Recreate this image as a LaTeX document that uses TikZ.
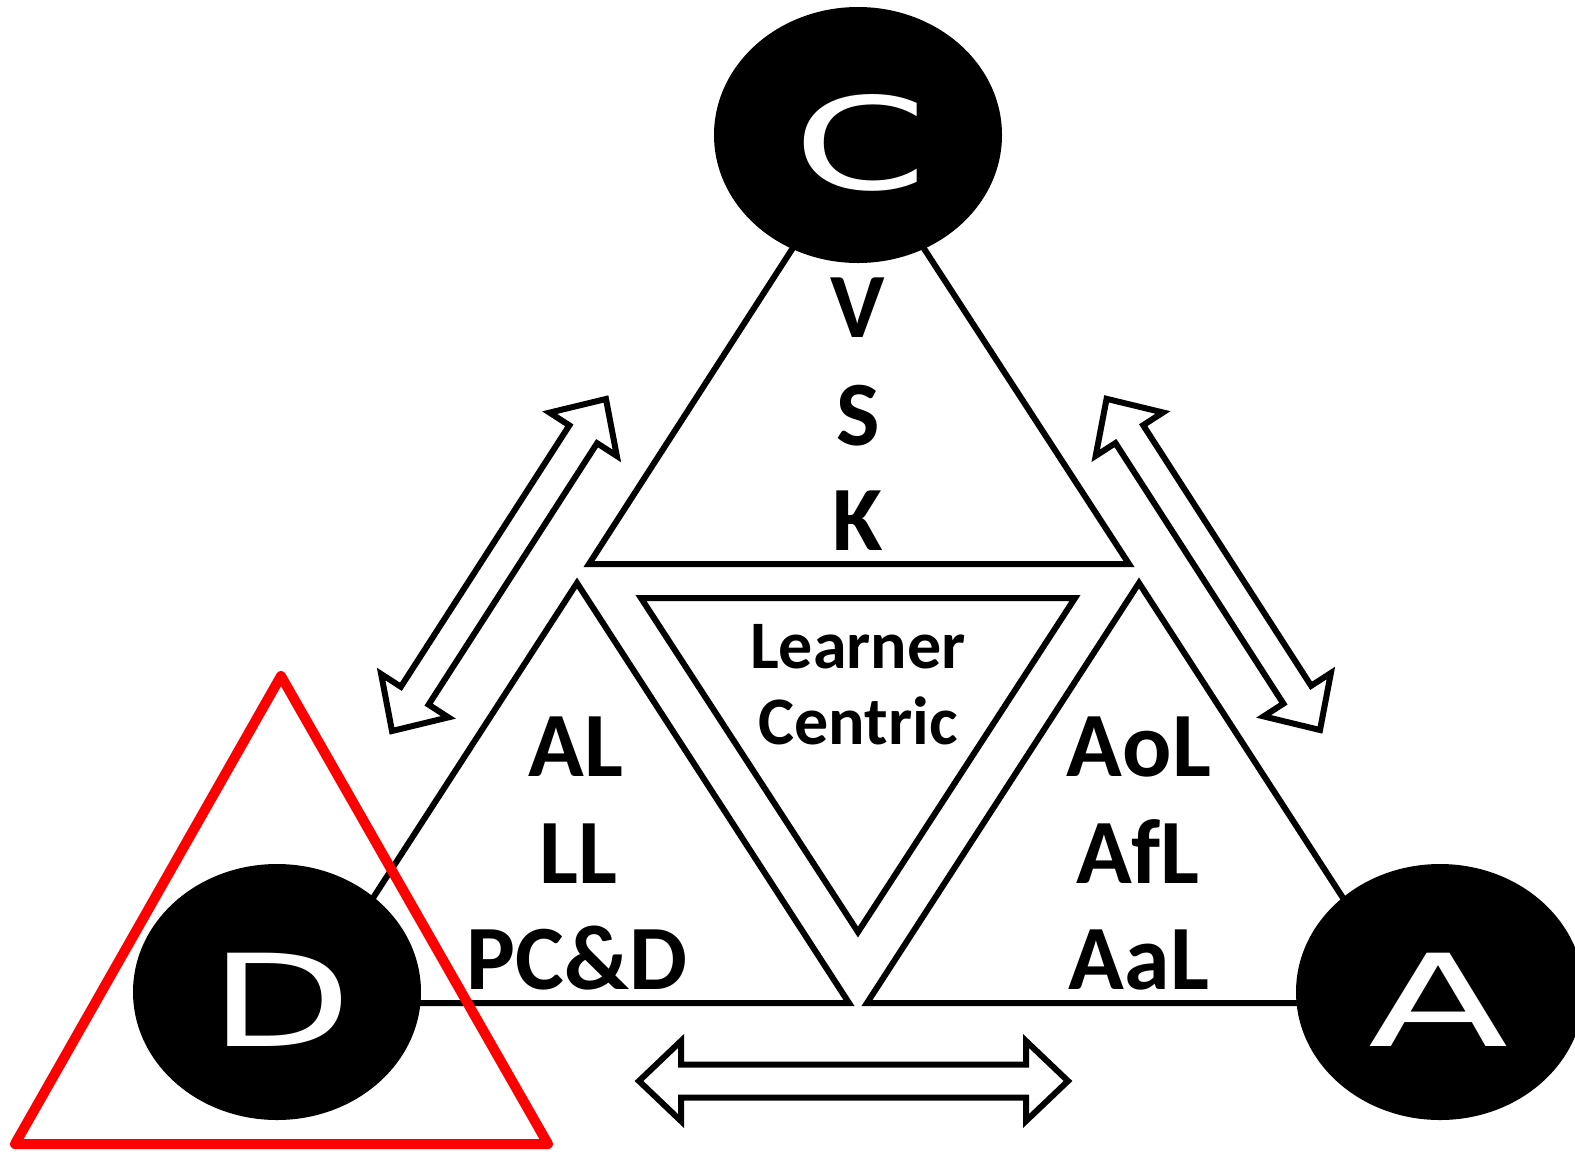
\documentclass[tikz,border=0pt]{standalone}
\usepackage{fontspec}
\setmainfont{Carlito}
\newfontfamily\letterfont{DejaVu Sans}
\usetikzlibrary{shapes.geometric}
\newcommand{\hollowarrow}[3]{%
  \begin{scope}[shift={#1}, rotate=#2]
    \draw[hollow] (0,0) -- (42,40) -- (42,16.5) -- ({#3-42},16.5) -- ({#3-42},40) -- (#3,0)
      -- ({#3-42},-40) -- ({#3-42},-16.5) -- (42,-16.5) -- (42,-40) -- cycle;
  \end{scope}}
\begin{document}
\begin{tikzpicture}[x=0.5pt,y=-0.5pt,
  tri/.style={draw=black, line width=3pt},
  blob/.style={ellipse, fill=black, inner sep=0pt, minimum width=144pt, minimum height=128pt},
  bigletter/.style={text=white, font=\letterfont\fontsize{64}{70}\selectfont, inner sep=0pt},
  lbl/.style={font=\fontsize{46}{52}\selectfont\bfseries, anchor=base, inner sep=0pt},
  lblsmall/.style={font=\fontsize{34}{38}\selectfont\bfseries, anchor=base, inner sep=0pt},
  hollow/.style={draw=black, line width=3pt, fill=white},
  redtri/.style={draw=red, line width=5pt, line join=round}
]
\useasboundingbox (0,0) rectangle (1575,1153);

% triangles
\coordinate (T1) at (858,147);
\coordinate (T2) at (589,564);
\coordinate (T3) at (1129,564);
\draw[tri] (T1) -- (T2) -- (T3) -- cycle;

\coordinate (L1) at (577,583);
\coordinate (L2) at (305,1003);
\coordinate (L3) at (849,1003);
\draw[tri] (L1) -- (L2) -- (L3) -- cycle;

\coordinate (R1) at (1139,583);
\coordinate (R2) at (867,1003);
\coordinate (R3) at (1411,1003);
\draw[tri] (R1) -- (R2) -- (R3) -- cycle;

\coordinate (I1) at (641,598);
\coordinate (I2) at (1075,598);
\coordinate (I3) at (858,932);
\draw[tri] (I1) -- (I2) -- (I3) -- cycle;

% double arrows
\coordinate (la) at (392,731);
\coordinate (ra) at (1320,730);
\coordinate (ba) at (639,1081);
\hollowarrow{(la)}{57.2}{395}
\hollowarrow{(ra)}{122.8}{394}
\hollowarrow{(ba)}{0}{429}

% ellipses
\node[blob] (C) at (858,135) {};
\node[blob] (D) at (277,992) {};
\node[blob] (A) at (1440,992) {};
\node[bigletter] (Cl) at (861,143) {\scalebox{1.5}[1]{C}};
\node[bigletter] (Dl) at (281,1000) {\scalebox{1.45}[1]{D}};
\node[bigletter] (Al) at (1439,1000) {\scalebox{1.6}[1]{A}};

% labels
\node[lbl] (V) at (858,337) {V};
\node[lbl] (S) at (858,445) {S};
\node[lbl] (K) at (858,550) {K};
\node[lblsmall] (Lr) at (858,668) {Learner};
\node[lblsmall] (Ce) at (858,744) {Centric};
\node[lbl] (AL) at (576,776) {AL};
\node[lbl] (LL) at (578,883) {LL};
\node[lbl] (PCD) at (577,989) {PC\&D};
\node[lbl] (AoL) at (1139,776) {AoL};
\node[lbl] (AfL) at (1138,883) {AfL};
\node[lbl] (AaL) at (1139,989) {AaL};

% red triangle
\coordinate (P1) at (281,676);
\coordinate (P2) at (548,1144);
\coordinate (P3) at (15,1144);
\draw[redtri] (P1) -- (P2) -- (P3) -- cycle;
\end{tikzpicture}
\end{document}
